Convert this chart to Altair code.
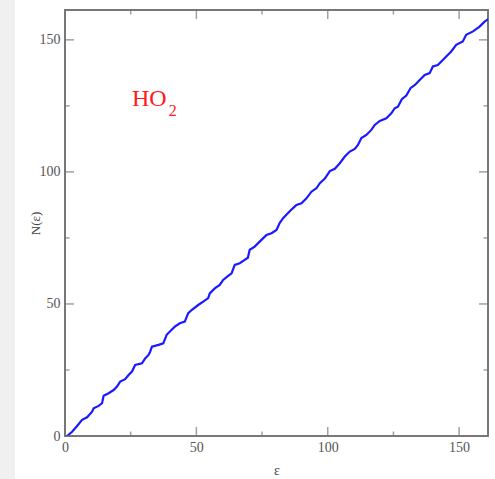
import altair as alt
import pandas as pd

# ---- data ----
eps = [0.0, 0.8, 2.7, 4.6, 6.5, 8.4, 10.3, 10.9, 12.8, 14.1, 14.7, 16.6, 18.5, 19.8,
       21.0, 22.9, 24.2, 25.5, 26.7, 29.3, 30.5, 31.8, 32.4, 33.1, 35.6, 37.4, 38.7,
       40.6, 41.8, 43.7, 45.6, 46.9, 48.2, 50.7, 52.6, 54.5, 55.1, 57.0, 58.9, 60.2,
       62.1, 63.4, 64.6, 66.5, 68.4, 69.6, 70.3, 72.2, 74.1, 76.7, 78.6, 80.5, 81.7,
       83.0, 84.9, 86.8, 88.1, 90.0, 91.9, 93.8, 95.7, 97.0, 98.9, 100.8, 102.7,
       104.6, 106.5, 108.4, 110.3, 111.5, 112.8, 114.7, 116.6, 117.9, 119.8, 122.3,
       124.2, 125.5, 126.7, 128.2, 129.9, 131.5, 133.3, 135.0, 136.9, 138.8, 140.0,
       141.9, 143.8, 145.1, 147.0, 148.9, 151.4, 152.7, 155.3, 157.8, 159.7, 161.6]
n_eps = [0.0, 0.0, 1.6, 3.8, 6.1, 7.1, 9.2, 10.5, 11.4, 12.4, 15.2, 16.2, 17.4, 18.7,
         20.6, 21.5, 23.1, 24.4, 26.9, 27.5, 29.4, 30.7, 31.9, 33.8, 34.5, 35.1, 38.3,
         40.2, 41.4, 42.7, 43.3, 46.5, 47.7, 49.6, 50.9, 52.2, 54.0, 55.9, 57.2, 59.1,
         60.6, 61.6, 64.8, 65.4, 66.7, 67.5, 70.5, 71.7, 73.6, 76.1, 76.8, 78.0, 80.6,
         82.5, 84.4, 86.3, 87.5, 88.1, 90.0, 92.5, 93.8, 95.7, 97.5, 100.3, 101.2,
         103.3, 105.8, 107.7, 108.7, 110.2, 112.8, 114.0, 115.9, 117.8, 119.3, 120.3,
         122.2, 124.1, 124.7, 127.5, 128.9, 131.7, 133.0, 134.8, 136.7, 137.4, 139.9,
         140.5, 142.4, 143.7, 145.6, 148.1, 149.4, 151.9, 153.2, 155.0, 156.9, 158.2]

x_major = [0, 50, 100, 150]
x_minor = [25, 75, 125]
y_major = [0, 50, 100, 150]
y_minor = [25, 75, 125]

label_main = "HO"
label_sub = "2"

# ---- layout ----
W, H = 423, 426
SERIF = "Liberation Serif"
FRAME = "#777777"
LABEL = "#555555"

xs = alt.Scale(domain=[0, 161], nice=False, zero=False)
ys = alt.Scale(domain=[0, 161.3], nice=False, zero=False)

x_axis = alt.Axis(values=x_major, ticks=False, domain=False, grid=False,
                  labelFont=SERIF, labelFontSize=14, labelColor=LABEL,
                  labelPadding=4, labelFlush=False,
                  title="ε", titleFont=SERIF, titleFontSize=14,
                  titleFontWeight="normal", titleColor="#444444",
                  titlePadding=9)
y_axis = alt.Axis(values=y_major, ticks=False, domain=False, grid=False,
                  labelFont=SERIF, labelFontSize=14, labelColor=LABEL,
                  labelPadding=5, labelFlush=False,
                  title="N(ε)", titleFont=SERIF, titleFontSize=13,
                  titleFontWeight="normal", titleColor="#444444",
                  titleX=-30, titleY=H / 2, titleAlign="center",
                  titleBaseline="middle", titleAngle=270)

curve = pd.DataFrame({"eps": eps, "n": n_eps})

strip = alt.Chart(pd.DataFrame({"a": [0]})).mark_rect(color="#f0f0f0").encode(
    x=alt.value(-65), x2=alt.value(-50), y=alt.value(-10), y2=alt.value(H + 43)
)

line = alt.Chart(curve).mark_line(color="#1a1aff", strokeWidth=2.2, clip=True).encode(
    x=alt.X("eps:Q", scale=xs, axis=x_axis),
    y=alt.Y("n:Q", scale=ys, axis=y_axis),
)


def xticks(vals, length, ypos):
    return alt.Chart(pd.DataFrame({"v": vals})).mark_tick(
        clip=True, orient="vertical", size=2 * length, thickness=1.5, color=FRAME
    ).encode(x=alt.X("v:Q", scale=xs, axis=x_axis), y=alt.value(ypos))


def yticks(vals, length, xpos):
    return alt.Chart(pd.DataFrame({"v": vals})).mark_tick(
        clip=True, orient="horizontal", size=2 * length, thickness=1.5, color=FRAME
    ).encode(y=alt.Y("v:Q", scale=ys, axis=y_axis), x=alt.value(xpos))


ticks = [
    xticks(x_major, 9, H), xticks(x_minor, 4.5, H),
    xticks(x_major, 9, 0), xticks(x_minor, 4.5, 0),
    yticks(y_major, 9, 0), yticks(y_minor, 4.5, 0),
    yticks(y_major, 9, W), yticks(y_minor, 4.5, W),
]

main_lbl = alt.Chart(pd.DataFrame({"x": [25.5], "y": [125.0], "t": [label_main]})).mark_text(
    align="left", baseline="alphabetic", font=SERIF, fontSize=24, color="#ff1a1a"
).encode(x=alt.X("x:Q", scale=xs, axis=x_axis), y=alt.Y("y:Q", scale=ys, axis=y_axis),
         text="t:N")

sub_lbl = alt.Chart(pd.DataFrame({"x": [39.5], "y": [121.2], "t": [label_sub]})).mark_text(
    align="left", baseline="alphabetic", font=SERIF, fontSize=16, color="#ff1a1a"
).encode(x=alt.X("x:Q", scale=xs, axis=x_axis), y=alt.Y("y:Q", scale=ys, axis=y_axis),
         text="t:N")

chart = alt.layer(strip, line, *ticks, main_lbl, sub_lbl).properties(
    width=W, height=H,
    autosize=alt.AutoSizeParams(type="none"),
    padding={"left": 65, "top": 10, "right": 7, "bottom": 43},
    background="white",
).configure_view(stroke=FRAME, strokeWidth=2)

chart.save("out.html", embed_options={"renderer": "svg", "actions": False})
